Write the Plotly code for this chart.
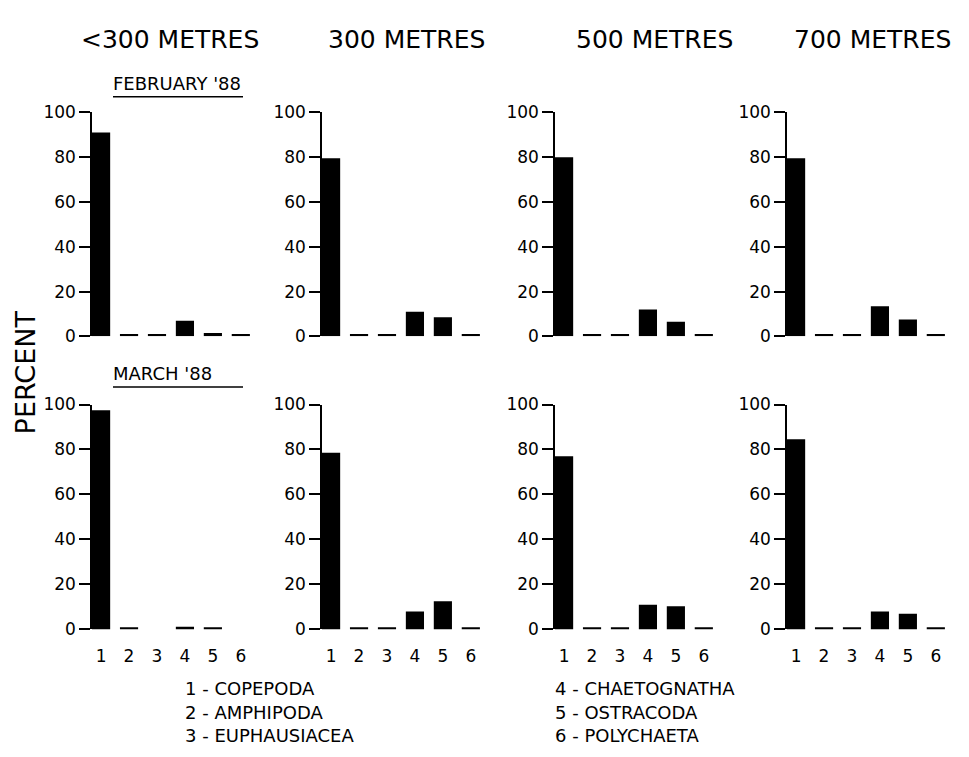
import plotly.graph_objects as go

categories = [1, 2, 3, 4, 5, 6]
depths = ["<300 METRES", "300 METRES", "500 METRES", "700 METRES"]
months = ["FEBRUARY '88", "MARCH '88"]
legend_left = ["1 - COPEPODA", "2 - AMPHIPODA", "3 - EUPHAUSIACEA"]
legend_right = ["4 - CHAETOGNATHA", "5 - OSTRACODA", "6 - POLYCHAETA"]

feb_lt300 = [91, 1, 1, 7, 1.5, 1]
feb_300 = [79.5, 1, 1, 11, 8.5, 1]
feb_500 = [80, 1, 1, 12, 6.5, 1]
feb_700 = [79.5, 1, 1, 13.5, 7.5, 1]
mar_lt300 = [97.5, 1, 0, 1.2, 1, 0]
mar_300 = [78.5, 1, 1, 8, 12.5, 1]
mar_500 = [77, 1, 1, 11, 10.3, 1]
mar_700 = [84.5, 1, 1, 8, 7, 1]

rows = [[feb_lt300, feb_300, feb_500, feb_700],
        [mar_lt300, mar_300, mar_500, mar_700]]

W, H = 969, 757
OFF = 8  # default page body margin
FONT = "DejaVu Sans"


def px(x):
    return (x - OFF) / W


def py(y):
    return 1 - (y - OFF) / H


# pixel layout of panels (page coordinates)
col_axis_px = [92, 322, 555, 787]
col_width_px = 160
row_top_px = [105, 405]
row_bot_px = [335, 636]

fig = go.Figure()
for r in range(2):
    for c in range(4):
        idx = r * 4 + c + 1
        xa = "x" if idx == 1 else f"x{idx}"
        ya = "y" if idx == 1 else f"y{idx}"
        fig.add_trace(go.Bar(x=categories, y=rows[r][c], xaxis=xa, yaxis=ya,
                             marker=dict(color="black", line=dict(width=0)),
                             width=0.65, showlegend=False))
        xkey = "xaxis" if idx == 1 else f"xaxis{idx}"
        ykey = "yaxis" if idx == 1 else f"yaxis{idx}"
        fig.layout[xkey] = dict(domain=[px(col_axis_px[c]), px(col_axis_px[c] + col_width_px)],
                                anchor=ya, range=[0.675, 6.4],
                                showline=False, showgrid=False, zeroline=False,
                                tickmode="array", tickvals=categories,
                                ticktext=[str(v) for v in categories],
                                showticklabels=(r == 1), ticks="outside",
                                ticklen=11, tickcolor="rgba(0,0,0,0)",
                                tickfont=dict(family=FONT, size=17, color="black"))
        fig.layout[ykey] = dict(domain=[py(row_bot_px[r]), py(row_top_px[r])],
                                anchor=xa, range=[0, 100],
                                showline=True, linecolor="black", linewidth=1.5,
                                showgrid=False, zeroline=False,
                                tickmode="array", tickvals=[0, 20, 40, 60, 80, 100],
                                ticks="outside", ticklen=11, tickwidth=1.5,
                                tickcolor="black",
                                tickfont=dict(family=FONT, size=17, color="black"))

annotations = []
header_x = [170, 406, 654, 872]
for d, hx in zip(depths, header_x):
    annotations.append(dict(text=d, x=px(hx), y=py(30), xref="paper", yref="paper",
                            showarrow=False, xanchor="center", yanchor="middle",
                            font=dict(family=FONT, size=25, color="black")))
month_y = [75, 373]
for m, my in zip(months, month_y):
    annotations.append(dict(text=m, x=px(111), y=py(my), xref="paper", yref="paper",
                            showarrow=False, xanchor="left", yanchor="middle",
                            font=dict(family=FONT, size=18, color="black")))
annotations.append(dict(text="PERCENT", x=px(25), y=py(372), xref="paper", yref="paper",
                        showarrow=False, textangle=-90, xanchor="center", yanchor="middle",
                        font=dict(family=FONT, size=27, color="black")))
leg_y = [697, 721, 745]
for t, ly in zip(legend_left, leg_y):
    annotations.append(dict(text=t, x=px(183), y=py(ly), xref="paper", yref="paper",
                            showarrow=False, xanchor="left", yanchor="middle",
                            font=dict(family=FONT, size=18, color="black")))
for t, ly in zip(legend_right, leg_y):
    annotations.append(dict(text=t, x=px(553), y=py(ly), xref="paper", yref="paper",
                            showarrow=False, xanchor="left", yanchor="middle",
                            font=dict(family=FONT, size=18, color="black")))

shapes = []
for uy in [89, 387]:
    shapes.append(dict(type="line", xref="paper", yref="paper",
                       x0=px(113), x1=px(243), y0=py(uy), y1=py(uy),
                       line=dict(color="black", width=1.5)))

fig.update_layout(width=W, height=H, margin=dict(l=0, r=0, t=0, b=0),
                  paper_bgcolor="white", plot_bgcolor="white",
                  annotations=annotations, shapes=shapes, bargap=0.35)

fig.write_html("out.html")
